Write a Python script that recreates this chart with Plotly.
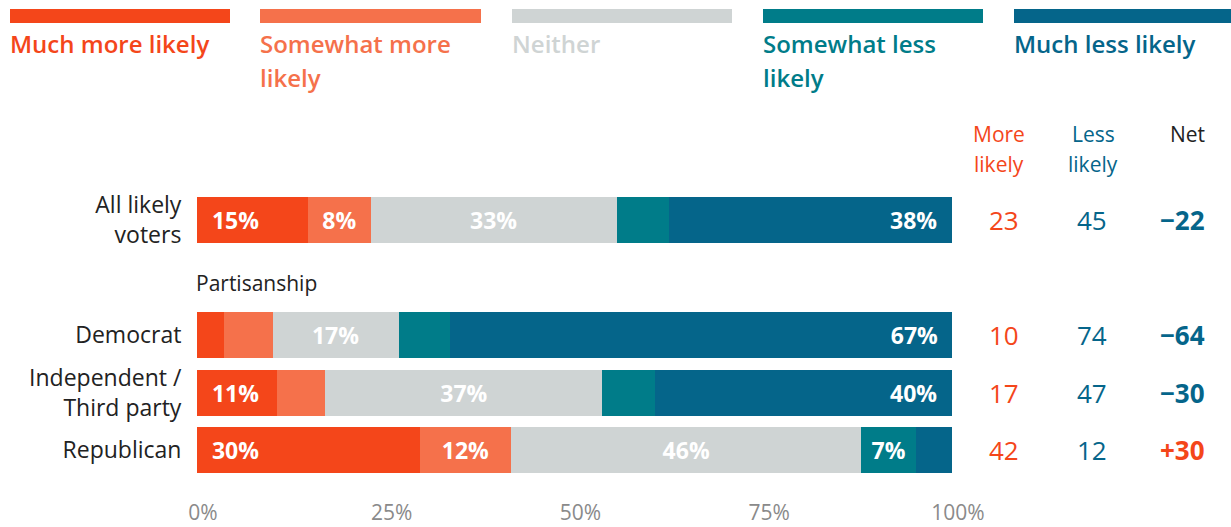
import plotly.graph_objects as go

# ---- data ----
rows = ["All likely<br>voters", "Democrat", "Independent /<br>Third party", "Republican"]
series = ["Much more likely", "Somewhat more likely", "Neither", "Somewhat less likely", "Much less likely"]
much_more = [14.7, 3.6, 10.6, 29.5]
somewhat_more = [8.3, 6.4, 6.4, 12.1]
neither = [32.6, 16.7, 36.7, 46.4]
somewhat_less = [6.9, 6.8, 7.0, 7.2]
much_less = [37.5, 66.6, 39.3, 4.9]
lbl_much_more = ["15%", "", "11%", "30%"]
lbl_somewhat_more = ["8%", "", "", "12%"]
lbl_neither = ["33%", "17%", "37%", "46%"]
lbl_somewhat_less = ["", "", "", "7%"]
lbl_much_less = ["38%", "67%", "40%", ""]
more_likely = [23, 10, 17, 42]
less_likely = [45, 74, 47, 12]
net = [-22, -64, -30, 30]
x_ticks = [0, 25, 50, 75, 100]
x_ticktext = ["0%", "25%", "50%", "75%", "100%"]
legend_lines = [["Much more likely"], ["Somewhat more", "likely"], ["Neither"],
                ["Somewhat less", "likely"], ["Much less likely"]]

# ---- style ----
FONT = "Open Sans"
C_MM = "#F4461A"
C_SM = "#F5714B"
C_NE = "#CFD4D4"
C_SL = "#007C89"
C_ML = "#05658A"
colors = [C_MM, C_SM, C_NE, C_SL, C_ML]

W, H = 1231, 527
ML, MR, MT, MB = 197, 279, 191, 48
PW = W - ML - MR
PH = H - MT - MB


def px_x(p):
    return (p - ML) / PW


def px_y(p):
    return (H - MB - p) / PH


# row positions: gap after first row for the "Partisanship" heading
ypos = [0] + [i + 1 for i in range(1, len(rows))]

values = [much_more, somewhat_more, neither, somewhat_less, much_less]
labels = [lbl_much_more, lbl_somewhat_more, lbl_neither, lbl_somewhat_less, lbl_much_less]
anchors = ["start", "middle", "middle", "middle", "end"]

fig = go.Figure()
pad = "\u00a0\u00a0"
for i, name in enumerate(series):
    txt = labels[i]
    if anchors[i] == "start":
        txt = [pad + t if t else "" for t in txt]
    elif anchors[i] == "end":
        txt = [t + pad if t else "" for t in txt]
    fig.add_trace(go.Bar(
        name=name, y=ypos, x=values[i], orientation="h",
        marker=dict(color=colors[i], line=dict(width=0)),
        width=0.8, text=txt, textposition="inside",
        insidetextanchor=anchors[i],
        textfont=dict(family=FONT, size=23, color="white", weight="bold"),
        hoverinfo="skip", showlegend=False,
    ))


def add_lines(lines, x, y_first, spacing, font, xanchor="left"):
    for k, line in enumerate(lines):
        fig.add_annotation(xref="paper", yref="paper", x=x, y=px_y(y_first + k * spacing),
                           xanchor=xanchor, yanchor="middle", showarrow=False,
                           text=line, font=font)


# legend (custom)
leg_x = [(10, 230), (260, 481), (512, 732), (763, 983), (1014, 1231)]
for i, (a, b) in enumerate(leg_x):
    fig.add_shape(type="rect", xref="paper", yref="paper",
                  x0=px_x(a), x1=px_x(b), y0=px_y(23), y1=px_y(9),
                  fillcolor=colors[i], line=dict(width=0))
    add_lines(legend_lines[i], px_x(a - 2), 44, 33,
              dict(family=FONT, size=24, color=colors[i], weight=600))

# Partisanship heading
fig.add_annotation(xref="paper", yref="y", x=px_x(194), y=1.1, xanchor="left", yanchor="middle",
                   showarrow=False, text="Partisanship",
                   font=dict(family=FONT, size=21, color="#222222"))

# right columns headers
col_x = [999, 1093, 1187]
val_x = [1004, 1092, 1182]
hfont = 21
add_lines(["More", "likely"], px_x(col_x[0]), 134, 30, dict(family=FONT, size=hfont, color=C_MM), "center")
add_lines(["Less", "likely"], px_x(col_x[1]), 134, 30, dict(family=FONT, size=hfont, color=C_ML), "center")
add_lines(["Net"], px_x(col_x[2]), 134, 30, dict(family=FONT, size=hfont, color="#222222"), "center")

for j, yp in enumerate(ypos):
    fig.add_annotation(xref="paper", yref="y", x=px_x(val_x[0]), y=yp, showarrow=False,
                       xanchor="center", yanchor="middle",
                       text=str(more_likely[j]), font=dict(family=FONT, size=26, color=C_MM))
    fig.add_annotation(xref="paper", yref="y", x=px_x(val_x[1]), y=yp, showarrow=False,
                       xanchor="center", yanchor="middle",
                       text=str(less_likely[j]), font=dict(family=FONT, size=26, color=C_ML))
    n = net[j]
    ntxt = ("+" if n > 0 else "\u2212") + str(abs(n))
    fig.add_annotation(xref="paper", yref="y", x=px_x(val_x[2]), y=yp, showarrow=False,
                       xanchor="center", yanchor="middle",
                       text="<b>" + ntxt + "</b>",
                       font=dict(family=FONT, size=26, color=C_MM if n > 0 else C_ML))

fig.update_layout(
    width=W, height=H, barmode="stack",
    margin=dict(l=ML, r=MR, t=MT, b=MB, pad=0, autoexpand=False),
    paper_bgcolor="white", plot_bgcolor="white",
    font=dict(family=FONT),
    xaxis=dict(range=[0, 100], tickvals=x_ticks, ticktext=x_ticktext, showgrid=False,
               zeroline=False, showline=False, ticks="outside", ticklen=15, automargin=False,
               ticklabelshift=6,
               tickcolor="rgba(0,0,0,0)", tickfont=dict(family=FONT, size=21, color="#8A8A8A")),
    yaxis=dict(range=[4.5, -0.5], tickvals=ypos, ticktext=rows, showgrid=False,
               zeroline=False, showline=False, ticks="outside", ticklen=10, automargin=False,
               tickcolor="rgba(0,0,0,0)", tickfont=dict(family=FONT, size=23, color="#222222")),
)

fig.write_html("out.html", config={"displayModeBar": False},
               post_script="document.body.style.margin='0px';")
